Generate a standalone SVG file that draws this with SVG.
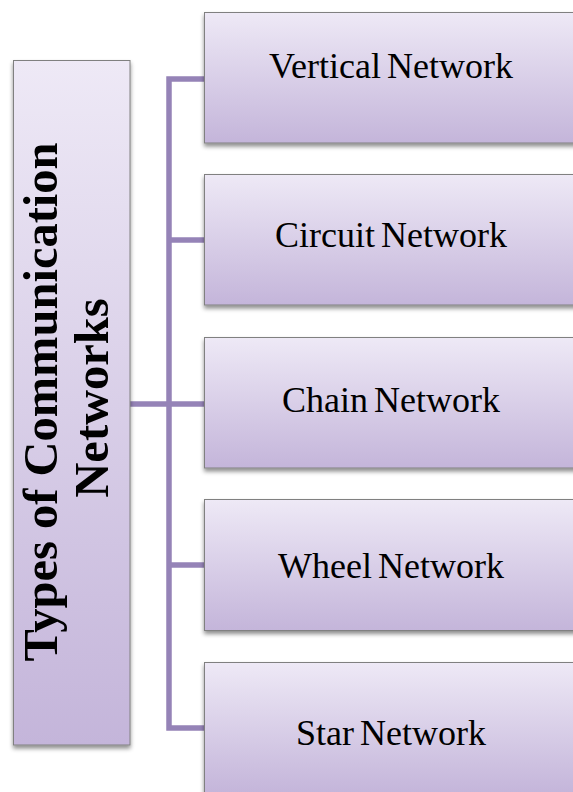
<svg xmlns="http://www.w3.org/2000/svg" width="573" height="792" viewBox="0 0 573 792">
<defs>
<linearGradient id="g" x1="0" y1="0" x2="0" y2="1">
<stop offset="0" stop-color="#eee9f6"/>
<stop offset="1" stop-color="#c4b5da"/>
</linearGradient>
<filter id="sh" x="-10%" y="-10%" width="120%" height="120%">
<feDropShadow dx="0" dy="3" stdDeviation="2" flood-color="#000" flood-opacity="0.45"/>
</filter>
<style>
.box{fill:url(#g);stroke:#808080;stroke-width:1;filter:url(#sh)}
.lbl{font-family:"Liberation Serif","Times New Roman",serif;font-size:36px;word-spacing:-3px;fill:#000;text-anchor:middle}
.ttl{font-family:"Liberation Serif","Times New Roman",serif;font-size:48.5px;font-weight:bold;fill:#000;text-anchor:middle}
.con{fill:none;stroke:#9583b7;stroke-width:5.5}
</style>
</defs>
<rect width="573" height="792" fill="#fff"/>
<g id="connectors">
<path class="con" d="M204 79 H169 V728 H204"/>
<path class="con" d="M169 240 H204"/>
<path class="con" d="M169 565 H204"/>
<path class="con" d="M130 404 H204"/>
</g>
<g id="root">
<rect class="box" x="13.5" y="60.5" width="116.5" height="684.5"/>
<text class="ttl" transform="translate(57 402) rotate(-90)">Types of Communication</text>
<text class="ttl" transform="translate(108 398) rotate(-90)">Networks</text>
</g>
<g id="n1">
<rect class="box" x="204.5" y="12.5" width="375" height="130.5"/>
<text class="lbl" x="391" y="78">Vertical Network</text>
</g>
<g id="n2">
<rect class="box" x="204.5" y="174.5" width="375" height="130.5"/>
<text class="lbl" x="391" y="247">Circuit Network</text>
</g>
<g id="n3">
<rect class="box" x="204.5" y="337.5" width="375" height="130.5"/>
<text class="lbl" x="391" y="412">Chain Network</text>
</g>
<g id="n4">
<rect class="box" x="204.5" y="499.5" width="375" height="131"/>
<text class="lbl" x="391" y="578">Wheel Network</text>
</g>
<g id="n5">
<rect class="box" x="204.5" y="662.5" width="375" height="131"/>
<text class="lbl" x="391" y="745">Star Network</text>
</g>
</svg>
